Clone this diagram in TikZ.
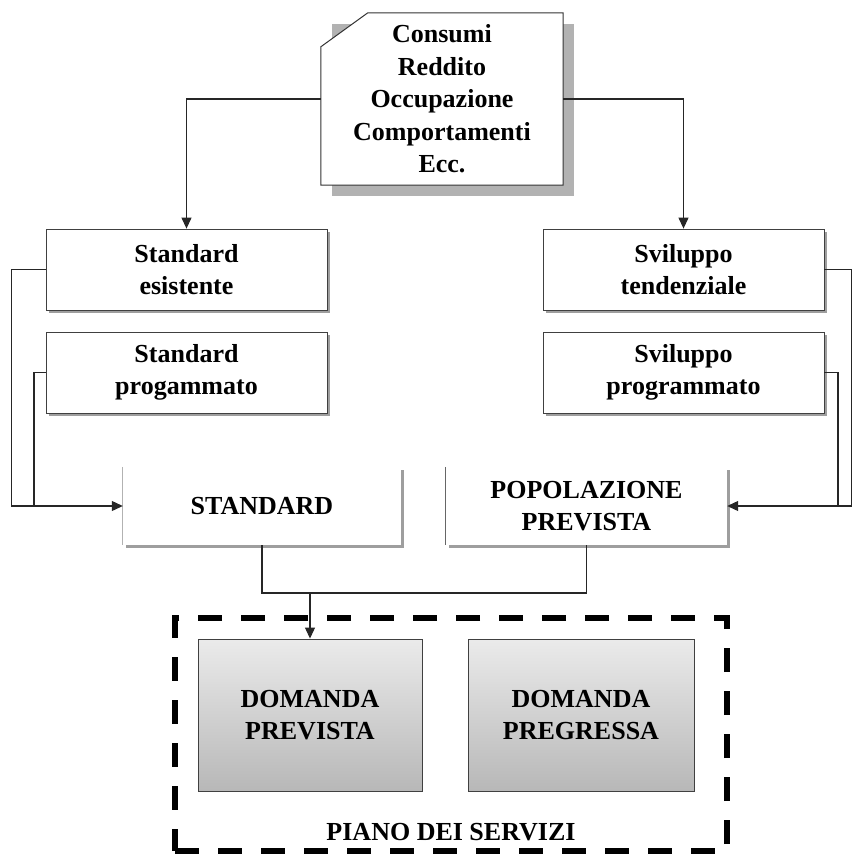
\documentclass[tikz,border=0pt]{standalone}
\usepackage{fontspec}
\setmainfont{Liberation Serif}
\usetikzlibrary{arrows.meta,calc,shadows,backgrounds}

\begin{document}
\begin{tikzpicture}[x=1pt,y=-1pt,
  lbl/.style={font=\bfseries\fontsize{26}{32}\selectfont, align=center, text=black},
  shadowed/.style={drop shadow={shadow xshift=3pt, shadow yshift=-3pt, fill=black!38, opacity=1}},
  box/.style={lbl, shadowed, draw=black!75, line width=0.8pt, fill=white,
    minimum width=281pt, minimum height=81pt, inner sep=0pt},
  openbox/.style={lbl, shadowed, fill=white, minimum height=78pt, inner sep=0pt},
  demand/.style={lbl, draw=black!75, line width=0.9pt, top color=black!8, bottom color=black!28,
    minimum width=224pt, minimum height=152pt, inner sep=0pt},
  conn/.style={draw=black!85, line width=1.1pt},
  arr/.style={conn, -{Triangle[length=11pt,width=10pt]}}
]
\useasboundingbox (0,0) rectangle (853,857);

% source box with the cut corner and its shadow
\node[lbl, minimum width=242pt, minimum height=172pt, inner sep=0pt, font=\bfseries\fontsize{26}{32.5}\selectfont]
  (src) at (442,99) {Consumi\\Reddito\\Occupazione\\Comportamenti\\Ecc.};
\begin{scope}[on background layer]
  \fill[black!30] ($(src.north west)+(11,11)$) rectangle ($(src.south east)+(11,11)$);
  \filldraw[fill=white, draw=black!80, line width=1pt]
    (src.south west) -- ($(src.north west)+(0,34)$) -- ($(src.north west)+(47,0)$)
    -- (src.north east) -- (src.south east) -- cycle;
\end{scope}

% standards and development
\node[box] (stde) at (186.5,269.5) {Standard\\esistente};
\node[box] (stdp) at (186.5,372.5) {Standard\\progammato};
\node[box] (svt)  at (683.5,269.5) {Sviluppo\\tendenziale};
\node[box] (svp)  at (683.5,372.5) {Sviluppo\\programmato};

% results
\node[openbox, minimum width=278pt] (std) at (262,506) {STANDARD};
\node[openbox, minimum width=281pt] (pop) at (586.5,506) {POPOLAZIONE\\PREVISTA};
\draw[black!30, line width=1.2pt] (std.north west) -- (std.south west);
\draw[black!60, line width=1.2pt] (pop.north west) -- (pop.south west);

% service plan frame
\node[draw=black, line width=6pt, dash pattern=on 24pt off 19pt,
  minimum width=552pt, minimum height=233pt, inner sep=0pt] (plan) at (451,734.5) {};
\node[demand] (dp) at (310,715) {DOMANDA\\PREVISTA};
\node[demand, minimum width=226pt] (dg) at (581,715) {DOMANDA\\PREGRESSA};
\node[lbl] (planlbl) at (451,832) {PIANO DEI SERVIZI};

% connectors
\draw[arr] (src.west) -| (stde.north);
\draw[arr] (src.east) -| (svt.north);

\coordinate (jl) at (34,506);
\coordinate (jr) at (838,506);
\draw[arr] (stde.west) -- ++(-34,0) |- (std.west);
\draw[conn] (stdp.west) -| (jl);
\draw[arr] (svt.east) -- ++(27,0) |- (pop.east);
\draw[conn] (svp.east) -| (jr);

\coordinate (mid) at (310,593);
\draw[conn] (std.south) -- (std.south |- mid) -- (pop.south |- mid) -- (pop.south);
\draw[arr] (mid) -- (dp.north);
\end{tikzpicture}
\end{document}
